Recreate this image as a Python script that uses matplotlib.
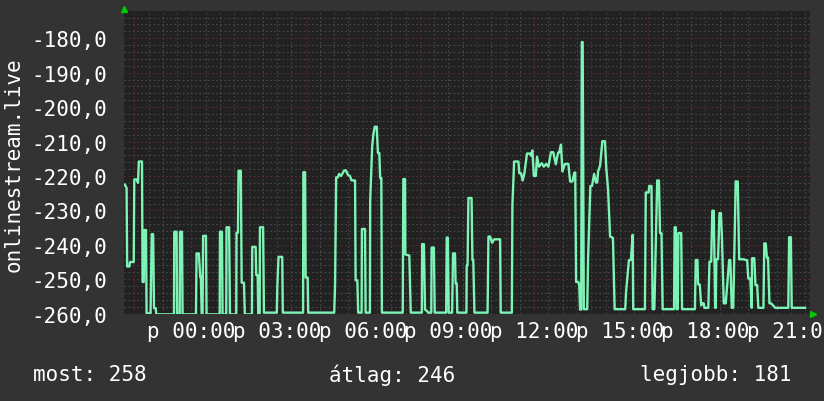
import numpy as np
import matplotlib
matplotlib.use("Agg")
import matplotlib.pyplot as plt

plt.rcParams['font.family'] = ['DejaVu Sans Mono', 'DejaVu Sans']
plt.rcParams['lines.scale_dashes'] = False

# hours relative to 00:00 (negative = previous evening), value
hours = [-2.33, -2.27, -2.25, -2.17, -2.15, -2.02, -2.00, -1.91, -1.87, -1.84,
         -1.73, -1.71, -1.67, -1.65, -1.59, -1.57, -1.43, -1.39, -1.34, -1.31,
         -1.25, -1.23, -0.61, -0.60, -0.52, -0.50, -0.41, -0.40, -0.33, -0.31,
         0.16, 0.18, 0.26, 0.31, 0.33, 0.36, 0.39, 0.41, 0.51, 0.53,
         0.99, 1.00, 1.07, 1.09, 1.22, 1.23, 1.32, 1.35, 1.57, 1.58,
         1.63, 1.65, 1.73, 1.76, 1.84, 1.87, 2.12, 2.13, 2.25, 2.27,
         2.32, 2.34, 2.39, 2.40, 2.51, 2.54, 2.99, 3.01, 3.05, 3.18,
         3.20, 3.91, 3.92, 3.98, 4.00, 4.07, 4.09, 5.00, 5.03, 5.07,
         5.13, 5.17, 5.24, 5.35, 5.41, 5.49, 5.55, 5.61, 5.73, 5.75,
         5.81, 5.84, 5.96, 5.97, 6.08, 6.10, 6.25, 6.26, 6.33, 6.37,
         6.42, 6.49, 6.53, 6.58, 6.61, 6.65, 6.67, 7.40, 7.42, 7.48,
         7.49, 7.63, 7.68, 8.07, 8.08, 8.14, 8.18, 8.26, 8.28, 8.40,
         8.41, 8.49, 8.52, 8.92, 8.94, 8.98, 9.01, 9.13, 9.16, 9.23,
         9.25, 9.29, 9.31, 9.63, 9.64, 9.67, 9.70, 9.81, 9.84, 9.87,
         9.91, 10.37, 10.40, 10.46, 10.53, 10.60, 10.81, 10.83, 11.22, 11.24,
         11.30, 11.45, 11.48, 11.54, 11.60, 11.66, 11.75, 11.86, 11.89, 11.94,
         11.99, 12.06, 12.10, 12.17, 12.27, 12.34, 12.42, 12.50, 12.59, 12.67,
         12.76, 12.84, 12.88, 12.94, 12.99, 13.08, 13.20, 13.26, 13.34, 13.41,
         13.44, 13.47, 13.55, 13.58, 13.61, 13.65, 13.67, 13.70, 13.74, 13.86,
         13.89, 13.97, 14.03, 14.10, 14.17, 14.21, 14.24, 14.31, 14.39, 14.48,
         14.53, 14.59, 14.66, 14.76, 14.82, 15.19, 15.22, 15.32, 15.39, 15.45,
         15.47, 15.88, 15.91, 16.01, 16.03, 16.11, 16.15, 16.21, 16.23, 16.31,
         16.37, 16.41, 16.46, 16.50, 16.90, 16.92, 16.96, 16.99, 17.03, 17.05,
         17.15, 17.18, 17.63, 17.66, 17.72, 17.74, 17.80, 17.85, 17.88, 17.94,
         17.96, 18.10, 18.14, 18.20, 18.24, 18.29, 18.34, 18.36, 18.38, 18.44,
         18.49, 18.54, 18.58, 18.64, 18.71, 18.75, 18.83, 18.87, 18.92, 18.97,
         18.99, 19.06, 19.13, 19.18, 19.33, 19.46, 19.50, 19.57, 19.62, 19.63,
         19.71, 19.75, 19.81, 19.85, 20.03, 20.06, 20.11, 20.15, 20.19, 20.24,
         20.30, 20.44, 20.90, 20.93, 20.99, 21.02, 21.49]
vals = [-222.5, -223.5, -246.3, -246.3, -245.0, -245.0, -221.0, -221.0, -222.0, -215.8,
        -215.8, -250.8, -250.8, -235.7, -235.7, -259.9, -259.9, -236.9, -236.9, -258.4,
        -258.4, -260.2, -260.2, -236.2, -236.2, -260.2, -260.2, -236.2, -236.2, -260.2,
        -260.2, -242.5, -242.5, -249.3, -249.3, -260.2, -260.2, -237.4, -237.4, -260.2,
        -260.2, -236.2, -236.2, -260.2, -260.2, -234.9, -234.9, -260.2, -260.2, -236.5,
        -236.5, -218.5, -218.5, -251.0, -251.0, -260.2, -260.2, -240.6, -240.6, -248.8,
        -248.8, -260.2, -260.2, -234.9, -234.9, -259.7, -259.7, -251.7, -243.5, -243.5,
        -259.7, -259.7, -218.9, -218.9, -249.5, -249.5, -259.7, -259.7, -251.7, -220.4,
        -220.4, -219.4, -220.0, -218.4, -218.4, -219.8, -220.0, -221.3, -221.3, -250.3,
        -250.3, -259.7, -259.7, -235.4, -235.4, -259.7, -259.7, -227.2, -211.4, -208.0,
        -205.7, -205.7, -213.3, -213.3, -220.6, -220.6, -259.7, -259.7, -220.9, -220.9,
        -242.8, -243.1, -259.7, -259.7, -239.8, -239.8, -258.8, -259.3, -259.7, -259.7,
        -240.8, -240.8, -259.7, -259.7, -237.9, -237.9, -259.7, -259.7, -242.5, -242.5,
        -251.2, -251.2, -259.7, -259.7, -246.0, -246.0, -226.4, -226.4, -244.4, -244.4,
        -259.7, -259.7, -237.6, -237.6, -239.4, -238.4, -238.4, -259.7, -259.7, -228.4,
        -215.8, -215.8, -219.2, -219.2, -221.3, -219.2, -213.5, -213.5, -214.1, -212.6,
        -220.0, -220.0, -214.4, -217.3, -216.3, -217.3, -216.5, -217.3, -213.1, -213.1,
        -216.6, -213.2, -213.2, -210.9, -218.7, -216.5, -216.5, -221.6, -221.6, -219.0,
        -219.0, -250.8, -250.8, -251.5, -258.8, -258.8, -181.1, -181.1, -258.7, -258.7,
        -244.0, -222.9, -222.9, -219.4, -221.9, -221.9, -218.7, -217.0, -209.9, -209.9,
        -218.0, -224.0, -237.6, -238.0, -258.7, -258.7, -253.7, -244.4, -244.4, -237.1,
        -258.7, -258.7, -224.8, -224.8, -222.9, -222.9, -258.7, -258.7, -251.2, -221.3,
        -221.3, -236.6, -236.6, -258.7, -258.7, -234.9, -234.9, -258.7, -258.7, -236.6,
        -236.6, -258.7, -258.7, -244.4, -244.4, -251.5, -251.5, -257.6, -257.0, -257.0,
        -258.3, -258.3, -244.9, -244.9, -230.1, -230.1, -258.3, -258.3, -244.2, -244.2,
        -230.8, -230.8, -238.6, -257.0, -257.0, -252.7, -244.4, -244.4, -258.3, -258.3,
        -251.2, -221.6, -221.6, -244.2, -244.2, -244.5, -249.8, -249.8, -258.3, -243.9,
        -243.9, -251.7, -251.7, -258.3, -258.3, -239.6, -239.6, -243.7, -243.7, -257.0,
        -257.0, -258.3, -258.3, -237.8, -237.8, -258.3, -258.3]

xtick_pos = [0, 3, 6, 9, 12, 15, 18, 21]
xtick_labels = ['p 00:00', 'p 03:00', 'p 06:00', 'p 09:00',
                'p 12:00', 'p 15:00', 'p 18:00', 'p 21:00']
yticks = [-260, -250, -240, -230, -220, -210, -200, -190, -180]
ylabel = 'onlinestream.live'
legend_items = ['most: 258', 'átlag: 246', 'legjobb: 181']

bg = '#333333'
plot_bg = '#222222'
line_col = '#7ef3b6'
fg = 'white'

fig = plt.figure(figsize=(8.24, 4.02), dpi=100, facecolor=bg)
ax = fig.add_axes([0.1505, 0.2164, 0.8325, 0.7536])
ax.set_facecolor(plot_bg)
ax.set_xlim(-2.36, 21.66)
ax.set_ylim(-260.1, -172.1)

# grid: minor every 30 min / 2 units, major every 2 h / 10 units
minor_col = '#4c4c4c'
major_col = '#5e2c2c'
for h in np.arange(-2.0, 21.7, 0.5):
    major = abs(h / 2 - round(h / 2)) < 1e-6
    ax.axvline(h, color=major_col if major else minor_col, lw=0.7,
               ls=(0, (1.2, 1.8)), zorder=1)
for v in np.arange(-258, -172, 2):
    major = v % 10 == 0
    ax.axhline(v, color=major_col if major else minor_col, lw=0.7,
               ls=(0, (1.2, 1.8)), zorder=1)

ax.plot(hours, vals, color=line_col, lw=1.7, zorder=3)

for s in ax.spines.values():
    s.set_visible(False)

ax.set_xticks(xtick_pos)
ax.set_xticklabels(xtick_labels)
ax.set_yticks(yticks)
ax.set_yticklabels([f'{v:.1f}'.replace('.', ',') for v in yticks])
ax.tick_params(length=0, colors=fg, labelsize=15)
ax.tick_params(axis='y', pad=12)
ax.tick_params(axis='x', pad=5)

# rrd style arrows
ax.plot([0], [1.008], marker='^', color='#00cc00', ms=5, transform=ax.transAxes,
        clip_on=False, zorder=5)
ax.plot([1.004], [0.0], marker='>', color='#00cc00', ms=5, transform=ax.transAxes,
        clip_on=False, zorder=5)

fig.text(14 / 824, 0.591, ylabel, rotation=90, color=fg, fontsize=15,
         ha='center', va='center')

fig.text(33 / 824, 1 - 375 / 402, legend_items[0], color=fg, fontsize=15,
         ha='left', va='center')
fig.text(392.5 / 824, 1 - 375 / 402, legend_items[1], color=fg, fontsize=15,
         ha='center', va='center')
fig.text(791 / 824, 1 - 375 / 402, legend_items[2], color=fg, fontsize=15,
         ha='right', va='center')

fig.savefig('out.png', dpi=100, facecolor=bg)
